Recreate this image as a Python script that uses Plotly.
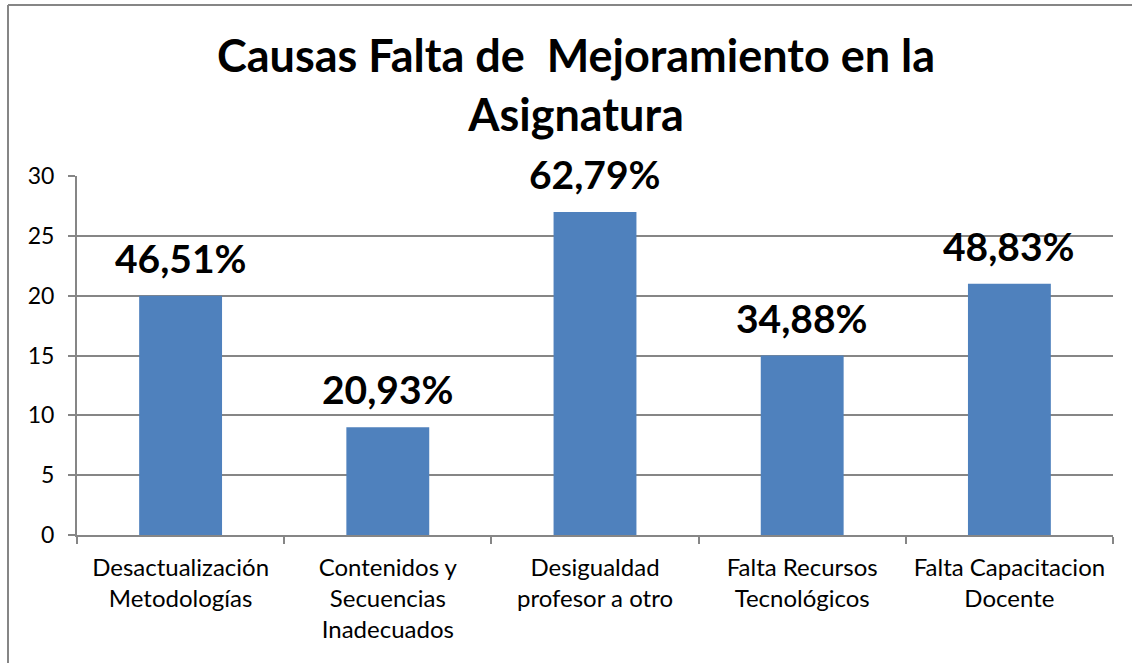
import plotly.graph_objects as go

categories = ["Desactualización<br>Metodologías", "Contenidos y<br>Secuencias<br>Inadecuados",
              "Desigualdad<br>profesor a otro", "Falta Recursos<br>Tecnológicos",
              "Falta Capacitacion<br>Docente"]
values = [20, 9, 27, 15, 21]
labels = ["46,51%", "20,93%", "62,79%", "34,88%", "48,83%"]
y_ticks = [0, 5, 10, 15, 20, 25, 30]

W, H = 1134, 663
L, R, T, B = 77, 21, 176, 128
FONT = "Lato, 'Open Sans', sans-serif"
GRID = "#868686"

fig = go.Figure(go.Bar(
    x=categories, y=values,
    marker=dict(color="#4F81BD", line=dict(width=0)),
))

for c, v, t in zip(categories, values, labels):
    fig.add_annotation(x=c, y=v, text="<b>" + t + "</b>", showarrow=False,
                       xanchor="center", yanchor="bottom", yshift=13,
                       font=dict(size=39, color="black", family=FONT))

def px_x(p):
    return (p - L) / (W - L - R)

def px_y(p):
    return (H - B - p) / (H - T - B)

fig.update_layout(
    width=W, height=H,
    margin=dict(l=L, r=R, t=T, b=B),
    paper_bgcolor="white", plot_bgcolor="white",
    bargap=0.6,
    showlegend=False,
    font=dict(family=FONT, color="black", size=20),
    title=dict(text="<b>Causas Falta de  Mejoramiento en la<br>Asignatura</b>",
               x=px_x(576), xref="paper", xanchor="center", y=1 - 72 / H, yanchor="top",
               font=dict(size=45, family=FONT, color="black")),
    xaxis=dict(showline=True, linecolor=GRID, linewidth=2, ticks="outside",
               tickson="boundaries", ticklen=7, tickcolor=GRID, tickwidth=2,
               tickfont=dict(size=24), showgrid=False, ticklabelstandoff=10),
    yaxis=dict(range=[0, 30], tickvals=y_ticks, showline=True, linecolor=GRID,
               linewidth=2, ticks="outside", ticklen=7, tickcolor=GRID, tickwidth=2,
               showgrid=True, gridcolor=GRID, gridwidth=2, zeroline=False,
               tickfont=dict(size=23), ticklabelstandoff=9),
    shapes=[
        dict(type="line", xref="paper", yref="paper", x0=px_x(8), x1=px_x(8),
             y0=px_y(5), y1=px_y(663), line=dict(color=GRID, width=2)),
        dict(type="line", xref="paper", yref="paper", x0=px_x(8), x1=px_x(1132),
             y0=px_y(5), y1=px_y(5), line=dict(color=GRID, width=2)),
    ],
)

fig.write_html("out.html", config={"displayModeBar": False},
               post_script="document.body.style.margin='0';")
